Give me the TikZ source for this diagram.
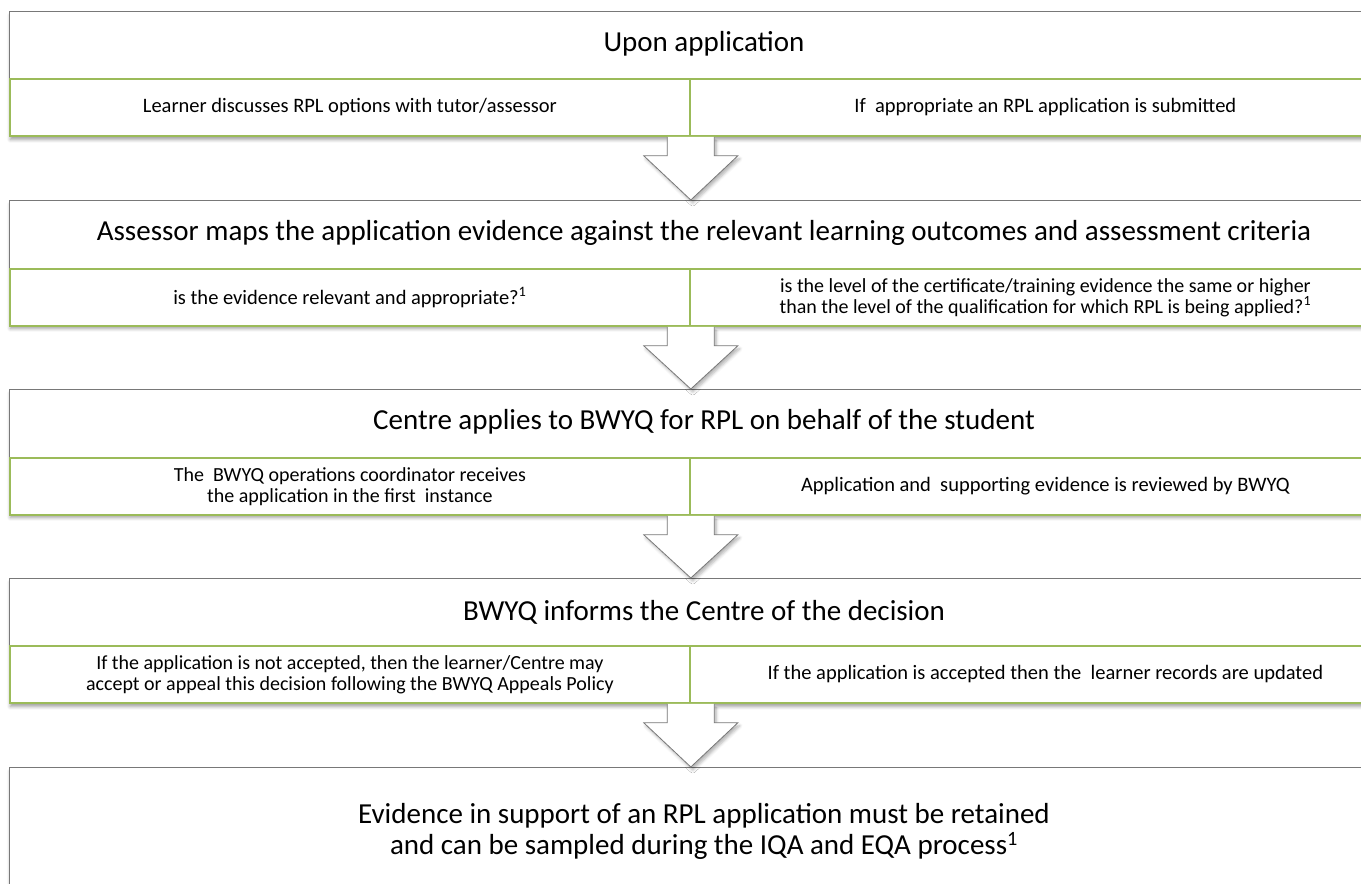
\documentclass[tikz,border=0pt]{standalone}
\usepackage{fontspec}
\setmainfont{Carlito}
\usetikzlibrary{calc,shadows.blur}
\definecolor{rowgreen}{RGB}{155,187,89}
\definecolor{boxgray}{RGB}{120,120,120}

\begin{document}
\begin{tikzpicture}[x=1pt,y=-1pt,
  stage/.style={draw=boxgray,line width=0.9pt,fill=white,anchor=north west,inner sep=0pt,
    minimum width=1391pt,minimum height=124pt,
    blur shadow={shadow xshift=1pt,shadow yshift=-4pt,shadow blur radius=3.5pt,shadow opacity=40}},
  headline/.style={font=\fontsize{29}{31}\selectfont,align=center},
  cell/.style={draw=rowgreen,line width=1.8pt,fill=white,anchor=north west,inner sep=0pt,
    minimum height=57pt,font=\fontsize{20.5}{21}\selectfont,align=center},
  down/.style={draw=boxgray,line width=0.8pt,fill=white,line join=miter,
    blur shadow={shadow xshift=2pt,shadow yshift=-3pt,shadow blur radius=3pt,shadow opacity=30}}]
\clip (0,0) rectangle (1361,884);

\node[stage] (box1) at (9,11) {};
\node[headline] (t1) at (704,44) {Upon application};
\node[cell,minimum width=680pt] (l1) at (9,78) {Learner discusses RPL options with tutor/assessor};
\node[cell,minimum width=711pt] (r1) at (689,78) {If~~appropriate an RPL application is submitted};

\node[stage] (box2) at (9,200) {};
\node[headline] (t2) at (704,233) {Assessor maps the application evidence against the relevant learning outcomes and assessment criteria};
\node[cell,minimum width=680pt] (l2) at (9,268) {is the evidence relevant and appropriate?\textsuperscript{1}};
\node[cell,minimum width=711pt,font=\fontsize{20}{21}\selectfont] (r2) at (689,268) {is the level of the certificate/training evidence the same or higher\\than the level of the qualification for which RPL is being applied?\textsuperscript{1}};

\node[stage] (box3) at (9,389) {};
\node[headline] (t3) at (704,422) {Centre applies to BWYQ for RPL on behalf of the student};
\node[cell,minimum width=680pt,font=\fontsize{20}{21}\selectfont] (l3) at (9,457) {The~~BWYQ operations coordinator receives\\the application in the first~~instance};
\node[cell,minimum width=711pt] (r3) at (689,457) {Application and~~supporting evidence is reviewed by BWYQ};

\node[stage] (box4) at (9,578) {};
\node[headline] (t4) at (704,612) {BWYQ informs the Centre of the decision};
\node[cell,minimum width=680pt,font=\fontsize{20}{21}\selectfont] (l4) at (9,645) {If the application is not accepted, then the learner/Centre may\\accept or appeal this decision following the BWYQ Appeals Policy};
\node[cell,minimum width=711pt] (r4) at (689,645) {If the application is accepted then the~~learner records are updated};

\node[stage,minimum height=140pt] (box5) at (9,767) {};
\node[headline] (t5) at (704,831) {Evidence in support of an RPL application must be retained\\and can be sampled during the IQA and EQA process\textsuperscript{1}};

\draw[down] ($(l1.south east)+(-23.5,0)$) -- ++(0,19) -- ++(-23.5,0) -- (box2.north -| l1.south east)
  -- ($(l1.south east)+(47,19)$) -- ++(-23.5,0) -- ++(0,-19);
\draw[down] ($(l2.south east)+(-23.5,0)$) -- ++(0,19) -- ++(-23.5,0) -- (box3.north -| l2.south east)
  -- ($(l2.south east)+(47,19)$) -- ++(-23.5,0) -- ++(0,-19);
\draw[down] ($(l3.south east)+(-23.5,0)$) -- ++(0,19) -- ++(-23.5,0) -- (box4.north -| l3.south east)
  -- ($(l3.south east)+(47,19)$) -- ++(-23.5,0) -- ++(0,-19);
\draw[down] ($(l4.south east)+(-23.5,0)$) -- ++(0,19) -- ++(-23.5,0) -- (box5.north -| l4.south east)
  -- ($(l4.south east)+(47,19)$) -- ++(-23.5,0) -- ++(0,-19);
\end{tikzpicture}
\end{document}
